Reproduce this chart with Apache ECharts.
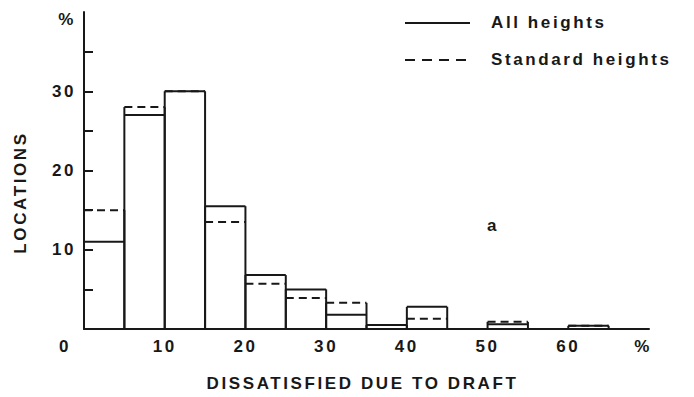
<!DOCTYPE html>
<html>
<head>
<meta charset="utf-8">
<script src="https://cdn.jsdelivr.net/npm/echarts@6/dist/echarts.min.js"></script>
<style>
  html, body { margin: 0; padding: 0; background: #fff; }
  #chart { width: 694px; height: 397px; }
  /* spaced-out lettering of the typeset labels */
  #chart svg text { letter-spacing: 2.6px; }
</style>
</head>
<body>
<div id="chart"></div>
<script>
// Histogram bins: lower edge of each 5 % class of dissatisfied occupants
const binStarts = [0, 5, 10, 15, 20, 25, 30, 35, 40, 45, 50, 55, 60];
const binWidth = 5;
// Share of locations (%) in each class
const allHeights      = [11, 27, 30, 15.5, 6.8, 5.0, 1.8, 0.5, 2.8, 0, 0.6, 0, 0.4];
const standardHeights = [15, 28, 30, 13.5, 5.7, 3.9, 3.3, 0.5, 1.3, 0, 0.9, 0, 0.4];

// Axis ticks and labels
const xTickValues = [0, 10, 20, 30, 40, 50, 60, 70];
const xTickLabels = ['0', '10', '20', '30', '40', '50', '60', '%'];
const yTickValues = [10, 20, 30, 40];
const yTickLabels = ['10', '20', '30', '%'];
const yMinorTicks = [5, 10, 15, 20, 25, 30, 35];

const INK = '#181818';
const FONT = 'Liberation Sans, Arial, sans-serif';
const FS = 17;

const histData = binStarts.map((x, i) => [x, allHeights[i], standardHeights[i]]);

function renderBin(params, api) {
  const x0 = api.value(0);
  const s = api.value(1);
  const d = api.value(2);
  if (!s && !d) return { type: 'group', children: [] };
  const x1 = x0 + binWidth;
  const top = Math.max(s, d);
  const bl = api.coord([x0, 0]);
  const br = api.coord([x1, 0]);
  const yTop = api.coord([x0, top])[1];
  const yS = api.coord([x0, s])[1];
  const yD = api.coord([x0, d])[1];
  const solid = { stroke: INK, lineWidth: 2, fill: null };
  const children = [
    { type: 'line', shape: { x1: bl[0], y1: bl[1], x2: bl[0], y2: yTop }, style: solid },
    { type: 'line', shape: { x1: br[0], y1: br[1], x2: br[0], y2: yTop }, style: solid }
  ];
  if (s > 0) {
    children.push({ type: 'line', shape: { x1: bl[0], y1: yS, x2: br[0], y2: yS }, style: solid });
  }
  if (d > 0) {
    children.push({
      type: 'line',
      shape: { x1: bl[0], y1: yD, x2: br[0], y2: yD },
      style: { stroke: INK, lineWidth: 2, lineDash: [8, 5], fill: null }
    });
  }
  return { type: 'group', children };
}

const chart = echarts.init(document.getElementById('chart'), null, { renderer: 'svg' });

const labelFont = { color: INK, fontFamily: FONT, fontWeight: 'bold', fontSize: FS };

chart.setOption({
  backgroundColor: '#fff',
  animation: false,
  grid: { left: 84, right: 45, top: 12, bottom: 67, containLabel: false },
  xAxis: {
    type: 'value',
    min: 0,
    max: 70,
    splitLine: { show: false },
    axisLine: { lineStyle: { color: INK, width: 2 } },
    axisTick: { show: false },
    axisLabel: Object.assign({
      customValues: xTickValues,
      margin: 9,
      formatter: v => {
        const lab = xTickLabels[xTickValues.indexOf(v)];
        if (v === 0) return '{zero|' + lab + '}';
        if (v === 70) return '{pct|' + lab + '}';
        return lab;
      },
      rich: {
        zero: Object.assign({ padding: [0, 38, 0, 0] }, labelFont),
        pct: Object.assign({ padding: [0, 12, 0, 0] }, labelFont)
      }
    }, labelFont),
    name: 'DISSATISFIED DUE TO DRAFT',
    nameLocation: 'middle',
    nameGap: 46,
    nameTextStyle: Object.assign({ padding: [0, 8, 0, 0] }, labelFont)
  },
  yAxis: {
    type: 'value',
    min: 0,
    max: 40,
    splitLine: { show: false },
    axisLine: { show: true, lineStyle: { color: INK, width: 2 } },
    axisTick: { show: true, inside: true, length: 9, customValues: yMinorTicks, lineStyle: { color: INK, width: 2 } },
    axisLabel: Object.assign({
      customValues: yTickValues,
      margin: 8,
      formatter: v => {
        const lab = yTickLabels[yTickValues.indexOf(v)];
        return v === 40 ? '{pct|' + lab + '}' : lab;
      },
      rich: {
        pct: Object.assign({ padding: [14, 0, 0, 0] }, labelFont)
      }
    }, labelFont),
    name: 'LOCATIONS',
    nameLocation: 'middle',
    nameRotate: 90,
    nameGap: 55,
    nameTextStyle: Object.assign({ padding: [0, 44, 0, 0] }, labelFont)
  },
  series: [{
    type: 'custom',
    name: 'Locations',
    renderItem: renderBin,
    encode: { x: 0, y: [1, 2] },
    data: histData,
    clip: false,
    z: 3
  }],
  graphic: [
    { type: 'line', shape: { x1: 405, y1: 23, x2: 470, y2: 23 }, style: { stroke: INK, lineWidth: 2 } },
    { type: 'text', x: 491, y: 22, style: { text: 'All heights', fill: INK, font: 'bold ' + FS + 'px ' + FONT, verticalAlign: 'middle', align: 'left' } },
    { type: 'line', shape: { x1: 405, y1: 60, x2: 470, y2: 60 }, style: { stroke: INK, lineWidth: 2, lineDash: [10, 7] } },
    { type: 'text', x: 491, y: 59, style: { text: 'Standard heights', fill: INK, font: 'bold ' + FS + 'px ' + FONT, verticalAlign: 'middle', align: 'left' } },
    { type: 'text', x: 493, y: 225, style: { text: 'a', fill: INK, font: 'bold ' + FS + 'px ' + FONT, verticalAlign: 'middle', align: 'center' } }
  ]
});
</script>
</body>
</html>
